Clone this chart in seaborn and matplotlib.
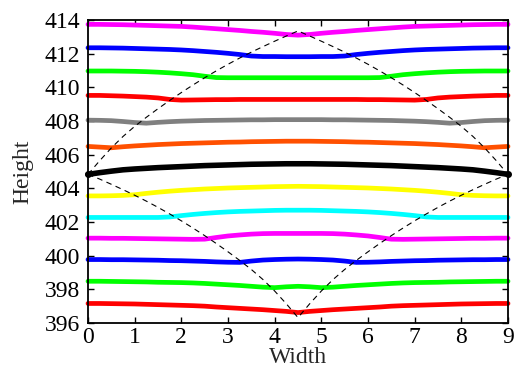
import numpy as np
import pandas as pd
import matplotlib
matplotlib.use("Agg")
import matplotlib.pyplot as plt
from matplotlib import font_manager
import seaborn as sns

# Shared width grid (0 to 9, step 0.25)
width = [i * 0.25 for i in range(37)]

# Band heights along the width grid
band_magenta_top = [413.74, 413.74, 413.73, 413.72, 413.70, 413.68, 413.66, 413.64, 413.62, 413.58,
                    413.53, 413.48, 413.43, 413.38, 413.32, 413.27, 413.21, 413.14, 413.10,
                    413.14, 413.21, 413.27, 413.32, 413.38, 413.43, 413.48, 413.53, 413.58,
                    413.62, 413.64, 413.66, 413.68, 413.70, 413.72, 413.73, 413.74, 413.74]
band_blue_top = [412.35, 412.35, 412.34, 412.33, 412.31, 412.29, 412.27, 412.25, 412.22, 412.18,
                 412.13, 412.08, 412.02, 411.95, 411.86, 411.83, 411.83, 411.82, 411.82,
                 411.82, 411.83, 411.83, 411.86, 411.95, 412.02, 412.08, 412.13, 412.18,
                 412.22, 412.25, 412.27, 412.29, 412.31, 412.33, 412.34, 412.35, 412.35]
band_green_top = [410.97, 410.97, 410.97, 410.96, 410.95, 410.93, 410.90, 410.86, 410.81, 410.75,
                  410.66, 410.58, 410.57, 410.57, 410.57, 410.57, 410.57, 410.57, 410.57,
                  410.57, 410.57, 410.57, 410.57, 410.57, 410.57, 410.58, 410.66, 410.75,
                  410.81, 410.86, 410.90, 410.93, 410.95, 410.96, 410.97, 410.97, 410.97]
band_red_top = [409.52, 409.52, 409.50, 409.48, 409.45, 409.42, 409.37, 409.28, 409.24, 409.25,
                409.26, 409.27, 409.27, 409.28, 409.28, 409.28, 409.28, 409.28, 409.28,
                409.28, 409.28, 409.28, 409.28, 409.28, 409.27, 409.27, 409.26, 409.25,
                409.24, 409.28, 409.37, 409.42, 409.45, 409.48, 409.50, 409.52, 409.52]
band_gray = [408.05, 408.04, 408.02, 407.97, 407.91, 407.87, 407.92, 407.96, 407.99, 408.01,
             408.03, 408.04, 408.05, 408.06, 408.07, 408.07, 408.08, 408.08, 408.08,
             408.08, 408.08, 408.07, 408.07, 408.06, 408.05, 408.04, 408.03, 408.01,
             407.99, 407.96, 407.92, 407.87, 407.91, 407.97, 408.02, 408.04, 408.05]
band_orange = [406.49, 406.45, 406.41, 406.47, 406.52, 406.56, 406.60, 406.63, 406.66, 406.68,
               406.70, 406.72, 406.74, 406.75, 406.77, 406.78, 406.79, 406.80, 406.80,
               406.80, 406.79, 406.78, 406.77, 406.75, 406.74, 406.72, 406.70, 406.68,
               406.66, 406.63, 406.60, 406.56, 406.52, 406.47, 406.41, 406.45, 406.49]
band_black = [404.83, 404.93, 405.02, 405.10, 405.15, 405.19, 405.23, 405.26, 405.29, 405.32,
              405.35, 405.37, 405.39, 405.41, 405.43, 405.44, 405.45, 405.46, 405.46,
              405.46, 405.45, 405.44, 405.43, 405.41, 405.39, 405.37, 405.35, 405.32,
              405.29, 405.26, 405.23, 405.19, 405.15, 405.10, 405.02, 404.93, 404.83]
band_yellow = [403.55, 403.55, 403.56, 403.58, 403.62, 403.70, 403.77, 403.83, 403.88, 403.92,
               403.96, 403.99, 404.02, 404.04, 404.06, 404.08, 404.10, 404.11, 404.12,
               404.11, 404.10, 404.08, 404.06, 404.04, 404.02, 403.99, 403.96, 403.92,
               403.88, 403.83, 403.77, 403.70, 403.62, 403.58, 403.56, 403.55, 403.55]
band_cyan = [402.27, 402.27, 402.27, 402.27, 402.27, 402.27, 402.27, 402.30, 402.38, 402.45,
             402.51, 402.56, 402.60, 402.63, 402.65, 402.67, 402.69, 402.70, 402.70,
             402.70, 402.69, 402.67, 402.65, 402.63, 402.60, 402.56, 402.51, 402.45,
             402.38, 402.30, 402.27, 402.27, 402.27, 402.27, 402.27, 402.27, 402.27]
band_magenta_low = [401.04, 401.04, 401.03, 401.03, 401.02, 401.01, 401.00, 400.99, 400.98, 400.97,
                    400.98, 401.08, 401.17, 401.23, 401.28, 401.31, 401.32, 401.32, 401.32,
                    401.32, 401.32, 401.31, 401.28, 401.23, 401.17, 401.08, 400.98, 400.97,
                    400.98, 400.99, 401.00, 401.01, 401.02, 401.03, 401.03, 401.04, 401.04]
band_blue_low = [399.77, 399.77, 399.76, 399.76, 399.75, 399.74, 399.73, 399.71, 399.70, 399.68,
                 399.66, 399.63, 399.61, 399.60, 399.68, 399.74, 399.77, 399.79, 399.80,
                 399.79, 399.77, 399.74, 399.68, 399.60, 399.61, 399.63, 399.66, 399.68,
                 399.70, 399.71, 399.73, 399.74, 399.75, 399.76, 399.76, 399.77, 399.77]
band_green_low = [398.48, 398.48, 398.47, 398.46, 398.45, 398.44, 398.42, 398.41, 398.40, 398.38,
                  398.35, 398.31, 398.27, 398.23, 398.18, 398.13, 398.10, 398.15, 398.18,
                  398.15, 398.10, 398.13, 398.18, 398.23, 398.27, 398.31, 398.35, 398.38,
                  398.40, 398.41, 398.42, 398.44, 398.45, 398.46, 398.47, 398.48, 398.48]
band_red_low = [397.16, 397.16, 397.15, 397.14, 397.13, 397.11, 397.09, 397.07, 397.05, 397.03,
                397.00, 396.95, 396.91, 396.87, 396.83, 396.79, 396.74, 396.69, 396.62,
                396.69, 396.74, 396.79, 396.83, 396.87, 396.91, 396.95, 397.00, 397.03,
                397.05, 397.07, 397.09, 397.11, 397.13, 397.14, 397.15, 397.16, 397.16]

# Folded light lines (upper and lower)
light_upper = [404.83, 405.64, 406.40, 407.08, 407.68, 408.22, 408.73, 409.22, 409.69, 410.14,
               410.57, 410.98, 411.37, 411.74, 412.09, 412.42, 412.74, 413.05, 413.35,
               413.05, 412.74, 412.42, 412.09, 411.74, 411.37, 410.98, 410.57, 410.14,
               409.69, 409.22, 408.73, 408.22, 407.68, 407.08, 406.40, 405.64, 404.83]
light_lower = [404.83, 404.55, 404.24, 403.92, 403.59, 403.24, 402.87, 402.48, 402.07, 401.64,
               401.19, 400.72, 400.23, 399.72, 399.18, 398.58, 397.90, 397.14, 396.32,
               397.14, 397.90, 398.58, 399.18, 399.72, 400.23, 400.72, 401.19, 401.64,
               402.07, 402.48, 402.87, 403.24, 403.59, 403.92, 404.24, 404.55, 404.83]

bands = [
    (band_magenta_top, "#ff00ff"),
    (band_blue_top, "#0000ff"),
    (band_green_top, "#00ff00"),
    (band_red_top, "#ff0000"),
    (band_gray, "#808080"),
    (band_orange, "#ff5000"),
    (band_black, "#000000"),
    (band_yellow, "#ffff00"),
    (band_cyan, "#00ffff"),
    (band_magenta_low, "#ff00ff"),
    (band_blue_low, "#0000ff"),
    (band_green_low, "#00ff00"),
    (band_red_low, "#ff0000"),
]

x_ticks = [0, 1, 2, 3, 4, 5, 6, 7, 8, 9]
y_ticks = [396, 398, 400, 402, 404, 406, 408, 410, 412, 414]

sns.set_style("ticks")
available = {f.name for f in font_manager.fontManager.ttflist}
serif = "Liberation Serif" if "Liberation Serif" in available else "DejaVu Serif"
plt.rcParams["font.family"] = [serif, "DejaVu Serif"]

fig = plt.figure(figsize=(5.18, 3.81), dpi=100)
ax = fig.add_axes([88 / 518, 1 - 323 / 381, 420 / 518, 303 / 381])

for vals, color in bands:
    lw = 4.0 if color == "#000000" else 3.4
    sns.lineplot(x=width, y=vals, color=color, linewidth=lw, ax=ax,
                 estimator=None, sort=False, legend=False, clip_on=False)

for vals in (light_upper, light_lower):
    sns.lineplot(x=width, y=vals, color="black", linewidth=0.8, ax=ax,
                 estimator=None, sort=False, legend=False,
                 linestyle=(0, (5, 4)))

ax.plot([width[0], width[-1]], [light_upper[0], light_upper[-1]], "o",
        color="black", markersize=4, clip_on=False, zorder=5)

ax.set_xlim(0, 9)
ax.set_ylim(396, 414)
ax.set_xticks(x_ticks)
ax.set_yticks(y_ticks)
ax.tick_params(direction="in", top=True, right=True, length=4, width=1,
               labelsize=17, colors="black")
ax.tick_params(axis="x", pad=3)
ax.tick_params(axis="y", pad=6)
for s in ax.spines.values():
    s.set_linewidth(1.3)
    s.set_color("black")
    s.set_visible(True)

ax.set_xlabel("Width", fontsize=17, labelpad=-1)
ax.set_ylabel("Height", fontsize=17, labelpad=8)

fig.savefig("out.png", dpi=100)
